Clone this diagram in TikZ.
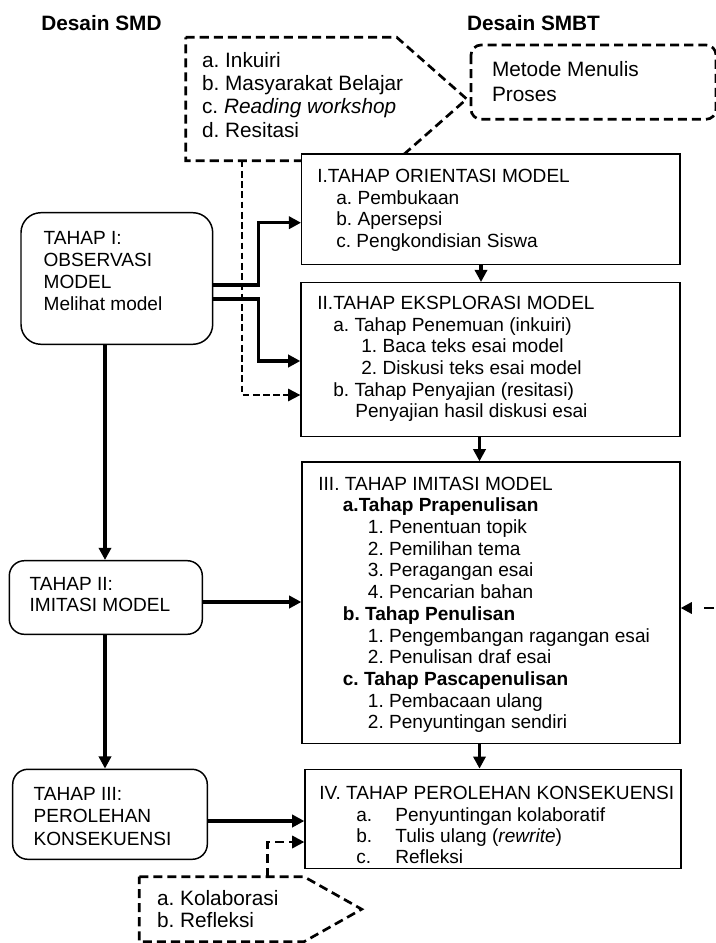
\documentclass[tikz,border=0pt]{standalone}
\usepackage{fontspec}
\setmainfont{Liberation Sans}
\usetikzlibrary{arrows.meta,fit}
\frenchspacing
\begin{document}
\begin{tikzpicture}[x=0.577pt,y=-0.577pt,
  box/.style={draw,line width=0.75pt,fill=white,inner sep=0pt},
  rbox/.style={box,line width=0.85pt},
  tx/.style={inner sep=0pt,anchor=base west,font=\fontsize{11}{13}\selectfont},
  tl/.style={inner sep=0pt,anchor=base west,font=\fontsize{12}{14}\selectfont},
  hd/.style={inner sep=0pt,anchor=base west,font=\fontsize{12}{14}\selectfont\bfseries},
  arr/.style={line width=1.8pt,-{Triangle[length=7pt,width=7pt]}},
  plain/.style={line width=1.8pt},
  callout/.style={line width=1.55pt,dash pattern=on 5.2pt off 2.9pt},
  dthin/.style={line width=1.2pt,dash pattern=on 3.9pt off 2pt,-{Triangle[length=7pt,width=7pt]}},
  dthick/.style={line width=1.6pt,dash pattern=on 5.2pt off 2.9pt,-{Triangle[length=7pt,width=7pt]}},
  dright/.style={line width=1.6pt,dash pattern=on 5.8pt off 6.7pt,-{Triangle[length=6.4pt,width=6.4pt]}}
]
\useasboundingbox (0,0) rectangle (715,943);

% headers
\node[hd] (hSMD) at (41,30.7) {Desain SMD};
\node[hd] (hSMBT) at (466.7,30.7) {Desain SMBT};

% top callout
\draw[callout] (185.7,37.3) -- (396.7,37.3) -- (466.7,99) -- (396.7,160.7) -- (185.7,160.7) -- cycle;
\coordinate (c1) at (241.7,160.7);
\node[tl] (k1) at (201.7,67.3) {a. Inkuiri};
\node[tl] (k2) at (201.7,90.6) {b. Masyarakat Belajar};
\node[tl] (k3) at (201.7,113.9) {c. \textit{Reading workshop}};
\node[tl] (k4) at (201.7,137.2) {d. Resitasi};

% Metode box
\draw[callout,rounded corners=5.8pt] (471,45) rectangle (716,119.3);
\node[tl] (m1) at (491.7,76.7) {Metode Menulis};
\node[tl] (m2) at (491.7,101.7) {Proses};

% right column boxes
\node[box,fit={(301.7,154) (680,264.3)}] (b1) {};
\node[box,fit={(301,282.7) (680,436.7)}] (b2) {};
\node[box,fit={(302,462) (680,743.3)}] (b3) {};
\node[box,fit={(305,769.3) (681,868.3)}] (b4) {};

% left column boxes
\node[rbox,rounded corners=11.5pt,fit={(21,212.7) (212.7,344.3)}] (t1) {};
\node[rbox,rounded corners=8.7pt,fit={(9.3,560.7) (202.3,634.3)}] (t2) {};
\node[rbox,rounded corners=8.7pt,fit={(12.7,769.3) (207.3,859.3)}] (t3) {};

% bottom callout
\draw[callout] (139.3,876.7) -- (304,876.7) -- (361.7,909.2) -- (304,941.7) -- (139.3,941.7) -- cycle;
\coordinate (c2) at (267.7,876.7);
\node[tl] (q1) at (156.7,905) {a. Kolaborasi};
\node[tl] (q2) at (156.7,927.7) {b. Refleksi};

% texts of left boxes
\node[tx] (t1a) at (43.3,245) {TAHAP I:};
\node[tx] (t1b) at (43.3,267) {OBSERVASI};
\node[tx] (t1c) at (43.3,289) {MODEL};
\node[tx] (t1d) at (43.3,310.5) {Melihat model};
\node[tx] (t2a) at (29.3,590.7) {TAHAP II:};
\node[tx] (t2b) at (29.3,611) {IMITASI MODEL};
\node[tx] (t3a) at (33.3,800) {TAHAP III:};
\node[tx] (t3b) at (33.3,822.5) {PEROLEHAN};
\node[tx] (t3c) at (33.3,845) {KONSEKUENSI};

% box I
\node[tx] (b1a) at (317,182.5) {I.TAHAP ORIENTASI MODEL};
\node[tx] (b1b) at (336,204.2) {a. Pembukaan};
\node[tx] (b1c) at (336,225.9) {b. Apersepsi};
\node[tx] (b1d) at (336,247.6) {c. Pengkondisian Siswa};

% box II
\node[tx] (b2a) at (317,309.3) {II.TAHAP EKSPLORASI MODEL};
\node[tx] (b2b) at (333,331) {a. Tahap Penemuan (inkuiri)};
\node[tx] (b2c) at (361,352.7) {1. Baca teks esai model};
\node[tx] (b2d) at (361,374.4) {2. Diskusi teks esai model};
\node[tx] (b2e) at (333,396.1) {b. Tahap Penyajian (resitasi)};
\node[tx] (b2f) at (355,417.8) {Penyajian hasil diskusi esai};

% box III
\node[tx] (b3a) at (318,490.1) {III. TAHAP IMITASI MODEL};
\node[tx] (b3b) at (342.5,511.8) {\textbf{a.Tahap Prapenulisan}};
\node[tx] (b3c) at (367.6,533.5) {1. Penentuan topik};
\node[tx] (b3d) at (367.6,555.2) {2. Pemilihan tema};
\node[tx] (b3e) at (367.6,576.9) {3. Peragangan esai};
\node[tx] (b3f) at (367.6,598.6) {4. Pencarian bahan};
\node[tx] (b3g) at (342.5,620.3) {\textbf{b. Tahap Penulisan}};
\node[tx] (b3h) at (367.6,642) {1. Pengembangan ragangan esai};
\node[tx] (b3i) at (367.6,663.7) {2. Penulisan draf esai};
\node[tx] (b3j) at (342.5,685.4) {\textbf{c. Tahap Pascapenulisan}};
\node[tx] (b3k) at (367.6,707.1) {1. Pembacaan ulang};
\node[tx] (b3l) at (367.6,728.8) {2. Penyuntingan sendiri};

% box IV
\node[tx] (b4a) at (319,799.3) {IV. TAHAP PEROLEHAN KONSEKUENSI};
\node[tx] (b4b) at (356,821) {a.};
\node[tx] (b4c) at (395,821) {Penyuntingan kolaboratif};
\node[tx] (b4d) at (356,842) {b.};
\node[tx] (b4e) at (395,842) {Tulis ulang (\textit{rewrite})};
\node[tx] (b4f) at (356,863) {c.};
\node[tx] (b4g) at (395,863) {Refleksi};

% connectors
\draw[arr] (t1.east |- 0,285) -| (258.3,222.7) -- (b1.west |- 0,222.7);
\draw[arr] (t1.east |- 0,299) -| (258.3,361) -- (b2.west |- 0,361);
\draw[dthin] (c1) -- (241.7,395) -- (b2.west |- 0,395);
\draw[arr] (b1.south -| 481,0) -- (b2.north -| 481,0);
\draw[arr] (b2.south -| 479.5,0) -- (b3.north -| 479.5,0);
\draw[arr] (b3.south -| 479.5,0) -- (b4.north -| 479.5,0);
\draw[arr] (t1.south -| 105,0) -- (t2.north -| 105,0);
\draw[arr] (t2.south -| 105,0) -- (t3.north -| 105,0);
\draw[arr] (t2.east |- 0,602) -- (b3.west |- 0,602);
\draw[arr] (t3.east |- 0,821) -- (b4.west |- 0,821);
\draw[dthick] (c2) -- (267.7,842) -- (b4.west |- 0,842);
\coordinate (rEnd) at (714,608);
\draw[dright] (rEnd) -- (b3.east |- 0,608);
\end{tikzpicture}
\end{document}
